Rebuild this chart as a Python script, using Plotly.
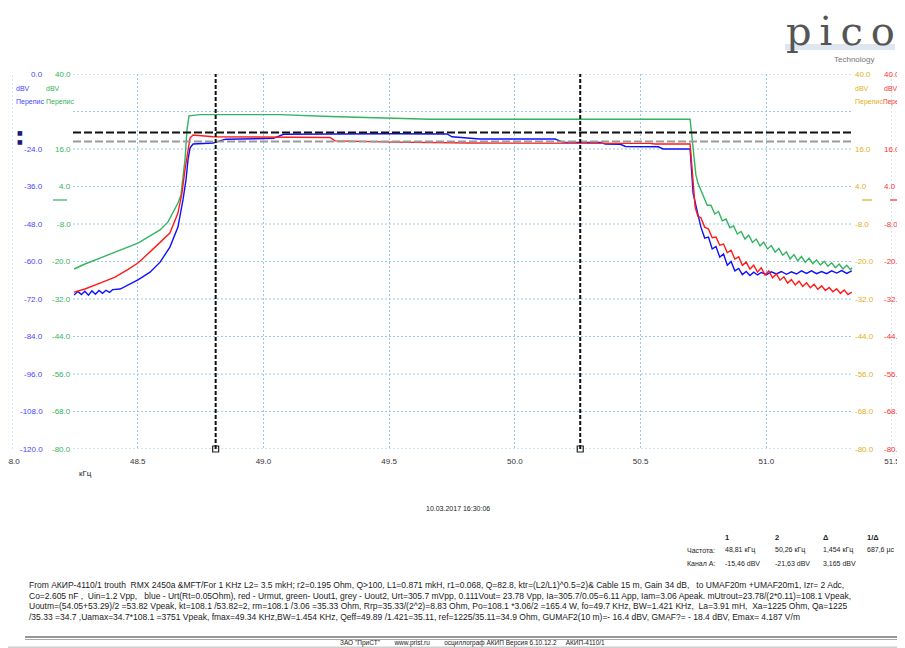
import plotly.graph_objects as go

# ---------------- data ----------------
freq_blue = [48.247, 48.262, 48.276, 48.290, 48.304, 48.318, 48.332, 48.346, 48.360, 48.374, 48.388, 48.400,
             48.430, 48.469, 48.501, 48.549, 48.589, 48.628, 48.660, 48.680, 48.692, 48.700, 48.708, 48.720,
             48.800, 48.839, 48.850, 49.040, 49.080, 49.500, 49.730, 49.750, 49.860, 50.160, 50.190, 50.340,
             50.360, 50.420, 50.440, 50.570, 50.590, 50.697, 50.709, 50.724,
             50.740, 50.755, 50.770, 50.785, 50.800, 50.815, 50.830, 50.845, 50.860, 50.875, 50.890, 50.905,
             50.920, 50.935, 50.950, 50.965, 50.980, 51.000, 51.020, 51.040, 51.060, 51.080, 51.100, 51.120,
             51.140, 51.160, 51.180, 51.200, 51.220, 51.240, 51.260, 51.280, 51.300, 51.320, 51.340]
blue_dbv = [-70.7, -69.6, -70.6, -69.5, -70.8, -69.4, -70.5, -69.3, -70.2, -69.2, -69.9, -69.0,
            -68.8, -67.2, -65.9, -63.4, -60.2, -55.4, -49.0, -40.3, -33.9, -27.5, -23.7, -22.4,
            -22.1, -21.1, -20.9, -20.6, -19.3, -19.1, -19.2, -20.1, -20.8, -20.8, -21.8, -21.9,
            -22.4, -22.5, -23.2, -23.3, -24.0, -24.0, -38.1, -43.5,
            -49.0, -52.5, -52.2, -56.0, -55.2, -58.6, -57.6, -61.2, -60.0, -63.0, -62.2, -64.2,
            -63.2, -64.5, -63.4, -64.3, -63.5, -64.2, -63.3, -64.0, -63.2, -64.1, -63.3, -64.0,
            -63.0, -63.8, -63.0, -63.9, -63.2, -63.9, -63.0, -63.7, -62.9, -63.8, -63.0]

freq_red = [48.247, 48.290, 48.350, 48.410, 48.460, 48.501, 48.569, 48.628, 48.660, 48.676, 48.688, 48.700,
            48.708, 48.720, 48.800, 49.265, 49.285, 49.523, 49.822, 50.537, 50.557, 50.697, 50.717, 50.728,
            50.740, 50.755, 50.770, 50.785, 50.800, 50.815, 50.830, 50.845, 50.860, 50.875, 50.890, 50.905,
            50.920, 50.935, 50.950, 50.965, 50.980, 50.995, 51.010, 51.025, 51.040, 51.055, 51.070, 51.085,
            51.100, 51.115, 51.130, 51.145, 51.160, 51.175, 51.190, 51.205, 51.220, 51.235, 51.250, 51.265,
            51.280, 51.295, 51.310, 51.325, 51.340]
red_dbv = [-29.8, -28.8, -26.9, -25.0, -22.6, -20.5, -15.4, -10.9, -4.5, 1.9, 9.3, 15.7,
           19.5, 20.5, 19.9, 19.7, 18.6, 18.2, 17.9, 17.8, 17.6, 17.6, -2.6, -5.5,
           -6.0, -9.0, -9.6, -12.4, -12.2, -14.8, -14.4, -17.2, -16.4, -19.2, -18.5, -21.2,
           -20.2, -22.4, -21.2, -23.4, -22.0, -24.3, -23.0, -25.2, -24.0, -26.0, -24.9, -26.9,
           -25.8, -27.5, -26.3, -28.0, -26.8, -28.4, -27.3, -28.9, -27.8, -29.3, -28.3, -29.7,
           -28.7, -30.2, -29.1, -30.6, -29.8]

freq_green = [48.247, 48.290, 48.350, 48.430, 48.501, 48.549, 48.589, 48.620, 48.640, 48.660, 48.672, 48.680,
              48.688, 48.696, 48.704, 48.748, 49.066, 49.265, 49.503, 49.663, 50.697, 50.709, 50.720, 50.728,
              50.750, 50.765, 50.780, 50.795, 50.810, 50.825, 50.840, 50.855, 50.870, 50.885, 50.900, 50.915,
              50.930, 50.945, 50.960, 50.975, 50.990, 51.005, 51.020, 51.035, 51.050, 51.065, 51.080, 51.095,
              51.110, 51.125, 51.140, 51.155, 51.170, 51.185, 51.200, 51.215, 51.230, 51.245, 51.260, 51.275,
              51.290, 51.305, 51.320, 51.335, 51.341]
green_dbv = [-22.4, -20.8, -18.9, -16.3, -14.1, -11.8, -9.9, -7.4, -4.5, -1.3, 1.3, 6.1,
             12.5, 22.1, 26.6, 27.0, 27.0, 26.4, 25.9, 25.5, 25.5, 15.7, 7.7, 5.1,
             1.0, -2.0, -2.0, -4.8, -4.0, -7.0, -6.4, -9.2, -8.6, -11.2, -10.4, -12.8,
             -11.6, -13.9, -12.8, -15.0, -13.8, -16.0, -14.9, -17.0, -15.8, -18.0, -16.9, -19.2,
             -17.8, -19.8, -18.4, -20.3, -18.9, -20.7, -19.5, -21.1, -19.9, -21.5, -20.4, -22.0,
             -20.8, -22.4, -21.2, -22.6, -22.0]

# axis ticks / labels
x_ticks = [48.0, 48.5, 49.0, 49.5, 50.0, 50.5, 51.0, 51.5]
x_tick_text = ["48.0", "48.5", "49.0", "49.5", "50.0", "50.5", "51.0", "51.5"]
blue_ticks = [0, -12, -24, -36, -48, -60, -72, -84, -96, -108, -120]
blue_labels = ["0.0", "", "-24.0", "-36.0", "-48.0", "-60.0", "-72.0", "-84.0", "-96.0", "-108.0", "-120.0"]
other_ticks = [40, 28, 16, 4, -8, -20, -32, -44, -56, -68, -80]
other_labels = ["40.0", "", "16.0", "4.0", "-8.0", "-20.0", "-32.0", "-44.0", "-56.0", "-68.0", "-80.0"]

cursor_freqs = [48.81, 50.26]
ruler_levels = [-18.7, -21.63]   # on channel A (blue) scale

table_header = ["1", "2", "Δ", "1/Δ"]
table_row_names = ["Частота:", "Канал A:"]
table_freq = ["48,81 кГц", "50,26 кГц", "1,454 кГц", "687,6 µс"]
table_chA = ["-15,46 dBV", "-21,63 dBV", "3,165 dBV", ""]

notes = [
    "From АКИР-4110/1 trouth  RMX 2450a &MFT/For 1 KHz L2= 3.5 mkH; r2=0.195 Ohm, Q>100, L1=0.871 mkH, r1=0.068, Q=82.8, ktr=(L2/L1)^0.5=2)& Cable 15 m, Gain 34 dB,   to UMAF20m +UMAF20m1, Izr= 2 Adc,",
    "Co=2.605 nF ,  Uin=1.2 Vpp,   blue - Urt(Rt=0.05Ohm), red - Urmut, green- Uout1, grey - Uout2, Urt=305.7 mVpp, 0.111Vout= 23.78 Vpp, Ia=305.7/0.05=6.11 App, Iam=3.06 Apeak. mUtrout=23.78/(2*0.11)=108.1 Vpeak,",
    "Uoutm=(54.05+53.29)/2 =53.82 Vpeak, kt=108.1 /53.82=2, rm=108.1 /3.06 =35.33 Ohm, Rrp=35.33/(2^2)=8.83 Ohm, Po=108.1 *3.06/2 =165.4 W, fo=49.7 KHz, BW=1.421 KHz,  La=3.91 mH,  Xa=1225 Ohm, Qa=1225",
    "/35.33 =34.7 ,Uamax=34.7*108.1 =3751 Vpeak, fmax=49.34 KHz,BW=1.454 KHz, Qeff=49.89 /1.421=35.11, ref=1225/35.11=34.9 Ohm, GUMAF2(10 m)=- 16.4 dBV, GMAF?= - 18.4 dBV, Emax= 4.187 V/m",
]
footer = 'ЗАО "ПриСТ"        www.prist.ru        осциллограф АКИП Версия 6.10.12.2     АКИП-4110/1'
date_text = "10.03.2017 16:30:06"

# ---------------- layout helpers (page pixel -> paper) ----------------
PAGE_W, PAGE_H = 905, 648
BODY = 8                      # default html body margin
FIG_W, FIG_H = PAGE_W - BODY, PAGE_H - BODY
PL, PR, PT, PB = 12, 892, 74, 449   # plot area in page pixels


def px(x):
    return (x - PL) / (PR - PL)


def py(y):
    return (PB - y) / (PB - PT)


FONT = "Liberation Sans, Arial, sans-serif"
C_BLUE, C_GREEN, C_YEL, C_RED = "#4646ff", "#34b35a", "#e0b020", "#ff3030"
GRID = "#9cc8e6"

fig = go.Figure()
fig.add_trace(go.Scatter(x=freq_green, y=green_dbv, yaxis="y2", mode="lines",
                         line=dict(color="#33b560", width=1.4), showlegend=False, hoverinfo="skip"))
fig.add_trace(go.Scatter(x=freq_red, y=red_dbv, yaxis="y2", mode="lines",
                         line=dict(color="#ff1a1a", width=1.4), showlegend=False, hoverinfo="skip"))
fig.add_trace(go.Scatter(x=freq_blue, y=blue_dbv, mode="lines",
                         line=dict(color="#1010ff", width=1.4), showlegend=False, hoverinfo="skip"))
# cursor end markers
fig.add_trace(go.Scatter(x=cursor_freqs, y=[blue_ticks[-1]] * len(cursor_freqs), mode="markers",
                         marker=dict(symbol="square-open", size=6, color="#222", line=dict(width=1.2)),
                         cliponaxis=False, showlegend=False, hoverinfo="skip"))

shapes = []
# vertical grid lines at the range edges
for v in (x_ticks[0], x_ticks[-1]):
    shapes.append(dict(type="line", xref="x", yref="paper", x0=v, x1=v, y0=0, y1=1,
                       line=dict(color=GRID, width=1, dash="2px,2px"), layer="below"))
# horizontal grid lines (only between the label strips)
for v in blue_ticks:
    shapes.append(dict(type="line", xref="paper", yref="y", x0=px(73), x1=px(852), y0=v, y1=v,
                       line=dict(color=GRID, width=1, dash="2px,2px"), layer="below"))
# horizontal rulers
shapes.append(dict(type="line", xref="paper", yref="y", x0=px(73), x1=px(852), y0=ruler_levels[0],
                   y1=ruler_levels[0], line=dict(color="#111", width=2, dash="8px,3px")))
shapes.append(dict(type="line", xref="paper", yref="y", x0=px(73), x1=px(852), y0=ruler_levels[1],
                   y1=ruler_levels[1], line=dict(color="#9a9a9a", width=2, dash="8px,3px")))
# vertical cursors
for f in cursor_freqs:
    shapes.append(dict(type="line", xref="x", yref="paper", x0=f, x1=f, y0=0, y1=1,
                       line=dict(color="#111", width=2, dash="4px,2px")))
# small channel markers under the "4.0" labels
for (a, b, c) in [(53, 67, C_GREEN), (862, 872, C_YEL), (890, 900, C_RED)]:
    shapes.append(dict(type="line", xref="paper", yref="paper", x0=px(a), x1=px(b), y0=py(200), y1=py(200),
                       line=dict(color=c, width=1.2)))
# double line above footer, grey bar
shapes.append(dict(type="line", xref="paper", yref="paper", x0=px(25), x1=px(905), y0=py(637), y1=py(637),
                   line=dict(color="#333", width=1.2)))
shapes.append(dict(type="line", xref="paper", yref="paper", x0=px(25), x1=px(905), y0=py(639.5), y1=py(639.5),
                   line=dict(color="#aaa", width=1)))
shapes.append(dict(type="rect", xref="paper", yref="paper", x0=px(8), x1=px(905), y0=py(646.5), y1=py(648),
                   line=dict(width=0), fillcolor="#cfcfcf"))
# logo stripe
shapes.append(dict(type="rect", xref="paper", yref="paper", x0=px(785), x1=px(895), y0=py(44), y1=py(50),
                   line=dict(width=0), fillcolor="#dfe6ef"))

ann = []


def txt(x, y, s, color="#222", size=8, xanchor="left", yref="paper", family=FONT):
    ann.append(dict(x=x, y=y, xref="paper", yref=yref, text=s, showarrow=False, xanchor=xanchor,
                    yanchor="middle", font=dict(family=family, size=size, color=color)))


# axis labels
for v, s in zip(blue_ticks, blue_labels):
    if s:
        txt(px(45), v, s, C_BLUE, 8, "right", yref="y")
for v, s in zip(other_ticks, other_labels):
    if s:
        txt(px(73), v, s, C_GREEN, 8, "right", yref="y2")
        txt(px(853), v, s, C_YEL, 8, "left", yref="y2")
        txt(px(882), v, s, C_RED, 8, "left", yref="y2")
# units headers
txt(px(14), py(88), "dBV", C_BLUE, 7)
txt(px(44), py(88), "dBV", C_GREEN, 7)
txt(px(14), py(102), "Перепис", C_BLUE, 7)
txt(px(44), py(102), "Перепис", C_GREEN, 7)
txt(px(853), py(88), "dBV", C_YEL, 7)
txt(px(882), py(88), "dBV", C_RED, 7)
txt(px(853), py(102), "Перепис", C_YEL, 7)
txt(px(881), py(102), "Перепис", C_RED, 6.5)
# ruler handles
for lv in ruler_levels:
    ann.append(dict(x=px(20), y=lv, xref="paper", yref="y", text="■", showarrow=False, xanchor="center",
                    yanchor="middle", font=dict(family="DejaVu Sans", size=6, color="#1a1a80")))
# x unit and date
txt(px(77), py(473), "кГц", "#222", 8)
txt(px(458), py(509), date_text, "#222", 7, "center")
# cursor table
col_x = [723, 773, 821, 865]
for cx, s in zip(col_x, table_header):
    txt(px(cx), py(537), "<b>" + s + "</b>", "#222", 7.5)
txt(px(685), py(550), table_row_names[0], "#222", 7)
txt(px(685), py(563), table_row_names[1], "#222", 7)
for cx, s in zip(col_x, table_freq):
    txt(px(cx), py(550), s, "#222", 7)
for cx, s in zip(col_x, table_chA):
    if s:
        txt(px(cx), py(563), s, "#222", 7)
# notes
for i, line in enumerate(notes):
    txt(px(27), py(585 + i * 10.7), line, "#1a1a1a", 8.5)
txt(px(338), py(643), footer, "#222", 6.5)
# logo
txt(px(840), py(31), "p\u2009i\u2009c\u2009o", "#555555", 40, "center", family="DejaVu Serif")
txt(px(832), py(60), "Technology", "#777", 8)

fig.update_layout(
    width=FIG_W, height=FIG_H, autosize=False,
    margin=dict(l=PL - BODY, r=PAGE_W - PR, t=PT - BODY, b=PAGE_H - PB, pad=0),
    paper_bgcolor="white", plot_bgcolor="white",
    showlegend=False,
    font=dict(family=FONT, size=8, color="#222"),
    xaxis=dict(range=[x_ticks[0], x_ticks[-1]], tickvals=x_ticks, ticktext=x_tick_text,
               showgrid=True, gridcolor=GRID, griddash="2px,2px", gridwidth=1,
               zeroline=False, showline=False, ticks="", ticklabelstandoff=6, automargin=False,
               ticklabeloverflow="allow", tickfont=dict(size=8, color="#333")),
    yaxis=dict(range=[blue_ticks[-1], blue_ticks[0]], showgrid=False, zeroline=False,
               showticklabels=False, ticks="", showline=False, automargin=False),
    yaxis2=dict(range=[other_ticks[-1], other_ticks[0]], overlaying="y", visible=False),
    shapes=shapes,
    annotations=ann,
)

fig.write_html("out.html")
